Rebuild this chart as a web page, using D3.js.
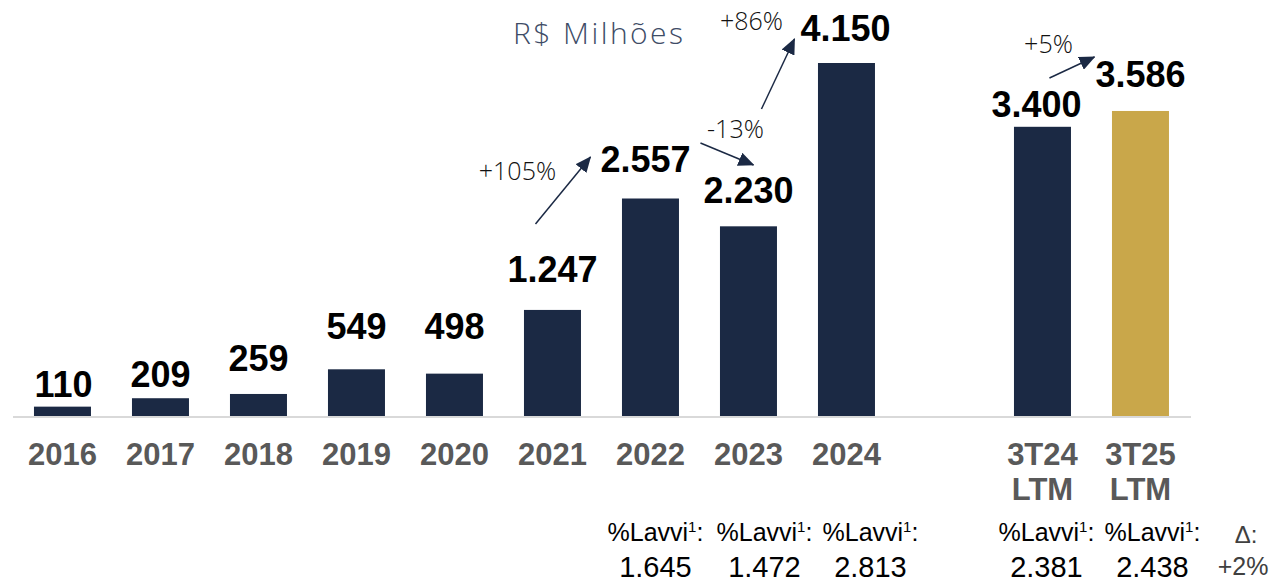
<!DOCTYPE html>
<html>
<head>
<meta charset="utf-8">
<script src="https://cdn.jsdelivr.net/npm/d3@7"></script>
<style>
  body { margin: 0; background: #fff; }
  svg { display: block; }
</style>
</head>
<body>
<div id="chart"></div>
<script>
// categories (null = empty slot between years and LTM)
var categories = ["2016", "2017", "2018", "2019", "2020", "2021", "2022", "2023", "2024", null, "3T24 LTM", "3T25 LTM"];
var values = [110, 209, 259, 549, 498, 1247, 2557, 2230, 4150, null, 3400, 3586];
var highlight = ["3T25 LTM"];

// growth annotations between bars
var growthLabels = ["+105%", "-13%", "+86%", "+5%"];
var growthFrom = ["2021", "2023", "2024", "3T25 LTM"];

// %Lavvi footnotes
var lavviCats = ["2022", "2023", "2024", "3T24 LTM", "3T25 LTM"];
var lavviValues = [1645, 1472, 2813, 2381, 2438];
var deltaLabel = "+2%";

function init() {
    var w = 1272;
    var h = 582;
    var baseY = 416;
    var navy = "#1b2944";
    var gold = "#c9a74a";

    var ptBR = d3.formatLocale({ decimal: ",", thousands: ".", grouping: [3], currency: ["R$", ""] });
    var fmt = ptBR.format(",d");

    var svg = d3.select("#chart")
        .append("svg")
        .attr("width", w)
        .attr("height", h);

    // band scale over 12 slots
    var pi = 41 / 98, po = 0.214, step = 98;
    var x = d3.scaleBand()
        .domain(d3.range(categories.length))
        .range([13, 13 + step * (categories.length - pi + 2 * po)])
        .paddingInner(pi)
        .paddingOuter(po);

    var y = d3.scaleLinear()
        .domain([0, 4150])
        .range([baseY, 63]);

    function cx(cat) {
        var i = categories.indexOf(cat);
        return x(i) + x.bandwidth() / 2;
    }

    var rows = categories.map(function (c, i) {
        return { cat: c, i: i, v: values[i] };
    }).filter(function (d) { return d.cat !== null; });

    // axis line
    svg.append("line")
        .attr("x1", 13).attr("x2", 1191)
        .attr("y1", baseY + 1).attr("y2", baseY + 1)
        .attr("stroke", "#d9d9d9")
        .attr("stroke-width", 2);

    // bars
    svg.selectAll("rect.bar")
        .data(rows)
        .enter()
        .append("rect")
        .attr("class", "bar")
        .attr("x", function (d) { return x(d.i); })
        .attr("y", function (d) { return y(d.v); })
        .attr("width", x.bandwidth())
        .attr("height", function (d) { return baseY - y(d.v); })
        .attr("fill", function (d) { return highlight.indexOf(d.cat) >= 0 ? gold : navy; });

    // value labels (lift above bar as in the slide)
    var lift = [10, 11, 23, 30, 35, 28, 27, 23, 22, 10, 24];
    var nudge = [1, 0, 0, 0, 0, 0, -5, 0, -1, -6, 0];
    svg.selectAll("text.val")
        .data(rows)
        .enter()
        .append("text")
        .attr("class", "val")
        .attr("x", function (d, k) { return x(d.i) + x.bandwidth() / 2 + nudge[k]; })
        .attr("y", function (d, k) { return y(d.v) - lift[k]; })
        .attr("text-anchor", "middle")
        .attr("font-family", "Liberation Sans, Arial, sans-serif")
        .attr("font-weight", "bold")
        .attr("font-size", 36)
        .attr("fill", "#000")
        .text(function (d) { return fmt(d.v); });

    // category labels
    var cl = svg.selectAll("text.cat")
        .data(rows)
        .enter()
        .append("text")
        .attr("class", "cat")
        .attr("text-anchor", "middle")
        .attr("font-family", "Liberation Sans, Arial, sans-serif")
        .attr("font-weight", "bold")
        .attr("font-size", 31)
        .attr("fill", "#595959");
    cl.selectAll("tspan")
        .data(function (d) {
            return d.cat.split(" ").map(function (s) { return { s: s, x: x(d.i) + x.bandwidth() / 2 }; });
        })
        .enter()
        .append("tspan")
        .attr("x", function (t) { return t.x; })
        .attr("y", function (t, j) { return 465 + j * 35; })
        .text(function (t) { return t.s; });

    // title
    svg.append("text")
        .attr("x", 598).attr("y", 44)
        .attr("text-anchor", "middle")
        .attr("font-family", "Open Sans, sans-serif")
        .attr("font-weight", 300)
        .attr("font-size", 30)
        .attr("textLength", 170)
        .attr("fill", "#3e4c66")
        .text("R$ Milhões");

    // arrows
    svg.append("defs").append("marker")
        .attr("id", "head")
        .attr("markerUnits", "userSpaceOnUse")
        .attr("viewBox", "0 0 16 14")
        .attr("refX", 15).attr("refY", 7)
        .attr("markerWidth", 16).attr("markerHeight", 14)
        .attr("orient", "auto")
        .append("path")
        .attr("d", "M0,0 L16,7 L0,14 Z")
        .attr("fill", navy);

    // arrow geometry: [dx start, value start, dx end, value end] relative to growthFrom bar centre
    var arrowGeom = [[-17, 2257, 38, 3045], [-48, 3209, 5, 2951], [-85, 3609, -52, 4432], [-91, 3974, -46, 4221]];
    var labelGeom = [[-35, 2775], [-13, 3268], [-95, 4538], [-92, 4268]];

    growthLabels.forEach(function (lab, k) {
        var c = cx(growthFrom[k]);
        var g = arrowGeom[k];
        svg.append("line")
            .attr("x1", c + g[0]).attr("y1", y(g[1]))
            .attr("x2", c + g[2]).attr("y2", y(g[3]))
            .attr("stroke", navy)
            .attr("stroke-width", 1.5)
            .attr("marker-end", "url(#head)");
        svg.append("text")
            .attr("x", c + labelGeom[k][0])
            .attr("y", y(labelGeom[k][1]))
            .attr("text-anchor", "middle")
            .attr("font-family", "Open Sans, sans-serif")
            .attr("font-weight", 300)
            .attr("font-size", 25)
            .attr("fill", "#111")
            .text(lab);
    });

    // %Lavvi footnotes
    var lavviDx = [5, 16, 24, 4, 12];
    lavviCats.forEach(function (cat, k) {
        var c = cx(cat) + lavviDx[k];
        var t = svg.append("text")
            .attr("x", c).attr("y", 541)
            .attr("text-anchor", "middle")
            .attr("font-family", "Liberation Sans, Arial, sans-serif")
            .attr("font-size", 25)
            .attr("fill", "#000");
        t.append("tspan").text("%Lavvi");
        t.append("tspan").attr("dy", -9).attr("font-size", 15).text("1");
        t.append("tspan").attr("dy", 9).text(":");
        svg.append("text")
            .attr("x", c).attr("y", 577)
            .attr("text-anchor", "middle")
            .attr("font-family", "Liberation Sans, Arial, sans-serif")
            .attr("font-size", 29)
            .attr("fill", "#000")
            .text(fmt(lavviValues[k]));
    });

    // delta
    svg.append("text")
        .attr("x", 1246).attr("y", 543)
        .attr("text-anchor", "middle")
        .attr("font-family", "Liberation Sans, Arial, sans-serif")
        .attr("font-size", 24)
        .attr("fill", "#404040")
        .text("Δ:");
    svg.append("text")
        .attr("x", 1243).attr("y", 575)
        .attr("text-anchor", "middle")
        .attr("font-family", "Liberation Sans, Arial, sans-serif")
        .attr("font-size", 25)
        .attr("fill", "#404040")
        .text(deltaLabel);
}
window.onload = init;
</script>
</body>
</html>
